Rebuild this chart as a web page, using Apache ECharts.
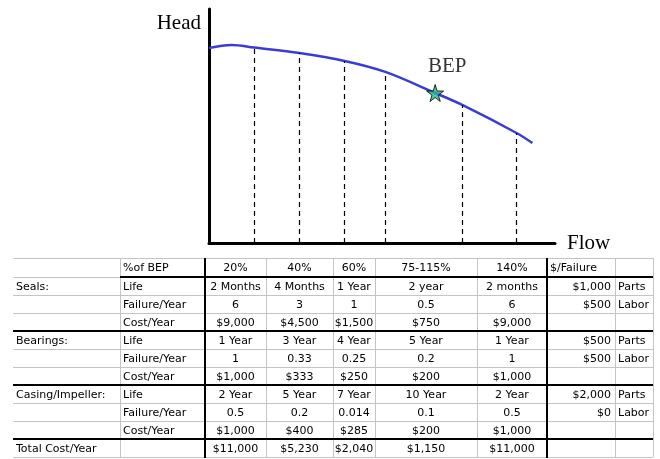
<!DOCTYPE html>
<html>
<head>
<meta charset="utf-8">
<script src="https://cdn.jsdelivr.net/npm/echarts@6/dist/echarts.min.js"></script>
<style>
html,body{margin:0;padding:0;background:#fff;}
#chart{width:660px;height:459px;}
</style>
</head>
<body>
<div id="chart"></div>
<script>
// ---- Curve data (flow as % of BEP, head in relative units) ----
const curveFlow = [0, 10, 20, 40, 60, 78, 100, 112, 136, 143];
const curveHead = [83.3, 84.6, 83.5, 81.2, 77.8, 73.1, 64.1, 59, 47, 42.7];
// dashed guide lines (flow, head at curve)
const guideFlow = [20, 40, 60, 78, 112, 136];
const guideHead = [83.5, 81.2, 77.8, 73.1, 59, 47];
// best efficiency point
const bepFlow = [100];
const bepHead = [64.1];

// ---- Table data ----
const pctHeaders = ['20%', '40%', '60%', '75-115%', '140%'];
const sealsLife = ['2 Months', '4 Months', '1 Year', '2 year', '2 months'];
const sealsFail = [6, 3, 1, 0.5, 6];
const sealsCost = [9000, 4500, 1500, 750, 9000];
const bearLife = ['1 Year', '3 Year', '4 Year', '5 Year', '1 Year'];
const bearFail = [1, 0.33, 0.25, 0.2, 1];
const bearCost = [1000, 333, 250, 200, 1000];
const caseLife = ['2 Year', '5 Year', '7 Year', '10 Year', '2 Year'];
const caseFail = [0.5, 0.2, 0.014, 0.1, 0.5];
const caseCost = [1000, 400, 285, 200, 1000];
const totalCost = [11000, 5230, 2040, 1150, 11000];
const sealsPerFailure = [1000, 500];
const bearPerFailure = [500, 500];
const casePerFailure = [2000, 0];
const costKinds = ['Parts', 'Labor'];

const money = v => '$' + v.toLocaleString('en-US');

// ---- Table layout ----
const colEdges = [13, 120, 205, 266, 333, 375, 477, 547, 615, 653];
const rowEdges = [258, 277, 295, 313, 331, 349, 367, 385, 403, 421, 439, 457];
const tFont = '11px "DejaVu Sans"';

const rows = [
  ['', '%of BEP', ...pctHeaders, '$/Failure', ''],
  ['Seals:', 'Life', ...sealsLife, money(sealsPerFailure[0]), costKinds[0]],
  ['', 'Failure/Year', ...sealsFail.map(String), money(sealsPerFailure[1]), costKinds[1]],
  ['', 'Cost/Year', ...sealsCost.map(money), '', ''],
  ['Bearings:', 'Life', ...bearLife, money(bearPerFailure[0]), costKinds[0]],
  ['', 'Failure/Year', ...bearFail.map(String), money(bearPerFailure[1]), costKinds[1]],
  ['', 'Cost/Year', ...bearCost.map(money), '', ''],
  ['Casing/Impeller:', 'Life', ...caseLife, money(casePerFailure[0]), costKinds[0]],
  ['', 'Failure/Year', ...caseFail.map(String), money(casePerFailure[1]), costKinds[1]],
  ['', 'Cost/Year', ...caseCost.map(money), '', ''],
  ['Total Cost/Year', '', ...totalCost.map(money), '', '']
];

const graphics = [];
const L = colEdges[0], R = colEdges[colEdges.length - 1];
const T = rowEdges[0], B = rowEdges[rowEdges.length - 1];
// thin grey grid
rowEdges.forEach(y => graphics.push({type:'line', shape:{x1:L, y1:y+0.5, x2:R, y2:y+0.5}, style:{stroke:'#c4c4c4', lineWidth:1}}));
colEdges.slice(1).forEach(x => graphics.push({type:'line', shape:{x1:x+0.5, y1:T, x2:x+0.5, y2:B}, style:{stroke:'#c4c4c4', lineWidth:1}}));
// thick black rules
graphics.push({type:'line', shape:{x1:colEdges[1], y1:rowEdges[1], x2:R, y2:rowEdges[1]}, style:{stroke:'#000', lineWidth:2}});
[4, 7, 10].forEach(i => graphics.push({type:'line', shape:{x1:L, y1:rowEdges[i], x2:R, y2:rowEdges[i]}, style:{stroke:'#000', lineWidth:2}}));
[2, 7].forEach(i => graphics.push({type:'line', shape:{x1:colEdges[i], y1:T, x2:colEdges[i], y2:B+1}, style:{stroke:'#000', lineWidth:2}}));
// cell texts
rows.forEach((row, r) => {
  const yc = (rowEdges[r] + rowEdges[r + 1]) / 2 + 1;
  row.forEach((txt, c) => {
    if (!txt) return;
    let align = 'center', x = (colEdges[c] + colEdges[c + 1]) / 2;
    if (c === 0 || c === 1 || c === 8 || (c === 7 && r === 0)) { align = 'left'; x = colEdges[c] + 3; }
    else if (c === 7) { align = 'right'; x = colEdges[c + 1] - 4; }
    graphics.push({type:'text', style:{text:txt, x:x, y:yc, textAlign:align, textVerticalAlign:'middle', font:tFont, fill:'#000'}});
  });
});

const chart = echarts.init(document.getElementById('chart'), null, {renderer:'canvas'});
const serif = '"Liberation Serif", "DejaVu Serif", serif';
chart.setOption({
  animation: false,
  backgroundColor: '#fff',
  grid: {left: 209, top: 9, right: 105, bottom: 216},
  xAxis: {
    type: 'value', min: 0, max: 153,
    axisLine: {show: true, lineStyle: {color: '#000', width: 3}},
    axisTick: {show: false}, axisLabel: {show: false}, splitLine: {show: false},
    name: 'Flow', nameLocation: 'end', nameGap: 12,
    nameTextStyle: {fontFamily: serif, fontSize: 21, color: '#000', verticalAlign: 'middle'}
  },
  yAxis: {
    type: 'value', min: 0, max: 100,
    axisLine: {show: true, lineStyle: {color: '#000', width: 3}},
    axisTick: {show: false}, axisLabel: {show: false}, splitLine: {show: false},
    name: 'Head', nameLocation: 'end', nameGap: -4,
    nameTextStyle: {fontFamily: serif, fontSize: 21, color: '#000', align: 'right', verticalAlign: 'top', padding: [0, 8, 0, 0]}
  },
  series: [
    {
      type: 'line', silent: true, symbol: 'none', data: [],
      markLine: {
        silent: true, symbol: 'none', label: {show: false},
        lineStyle: {color: '#000', width: 1.2, type: [5, 4]},
        data: guideFlow.map((f, i) => [{coord: [f, 0]}, {coord: [f, guideHead[i]]}])
      }
    },
    {
      type: 'line', smooth: 0.35, symbol: 'none',
      lineStyle: {color: '#3b3bd6', width: 2.5},
      data: curveFlow.map((f, i) => [f, curveHead[i]])
    },
    {
      type: 'scatter', z: 5,
      symbol: 'path://M50,0 L61,35 L98,35 L68,57 L79,91 L50,70 L21,91 L32,57 L2,35 L39,35 Z',
      symbolSize: 17,
      itemStyle: {color: '#22b889', borderColor: '#000', borderWidth: 1},
      label: {show: true, formatter: 'BEP', position: 'top', offset: [12, -2], fontFamily: serif, fontSize: 21, color: '#000'},
      data: bepFlow.map((f, i) => [f, bepHead[i]])
    }
  ],
  graphic: graphics
});
</script>
</body>
</html>
